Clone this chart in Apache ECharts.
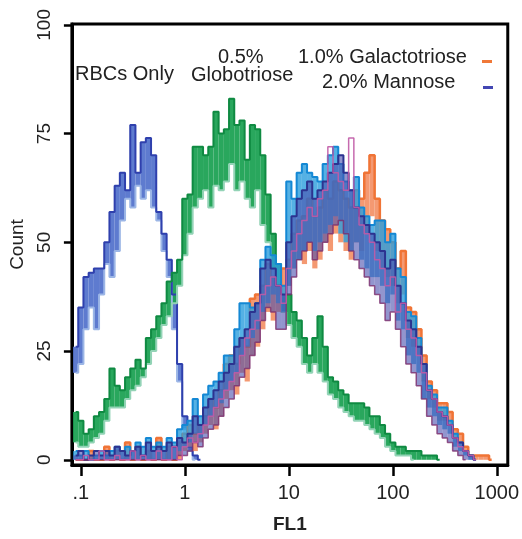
<!DOCTYPE html>
<html>
<head>
<meta charset="utf-8">
<script src="https://cdn.jsdelivr.net/npm/echarts@6/dist/echarts.min.js"></script>
<style>
html,body{margin:0;padding:0;background:#fff;}
#chart{width:522px;height:539px;}
</style>
</head>
<body>
<div id="chart"></div>
<script>
// ---- data (log10 FL1 channel bins, counts) ----
const binStart = -1.05;      // centre of first bin, log10(FL1)
const binWidth = 0.05;       // bin width, log10 units
const xTickValues = [-1, 0, 1, 2, 3];
const xTickLabels = ['.1', '1', '10', '100', '1000'];
const yTickValues = [0, 25, 50, 75, 100];

const rbcHigh = [26,35,42,43,44,44,50,57,63,66,62,77,66,73,74,70,57,52,46,38,22,10,3,1,0];
const rbcLow  = [20,22,30,35,30,38,45,42,48,55,60,58,63,60,62,58,55,48,42,30,18,7,2,0,0];

const globoHigh = [11,9,6,7,10,11,14,21,17,16,
  19,21,23,21,28,30,33,36,41,43,
  46,60,61,72,72,70,72,80,75,76,
  83,77,78,69,77,76,70,61,52,45,
  40,38,34,32,28,24,28,33,26,19,
  18,16,15,13,13,13,12,10,10,8,
  6,4,3,3,2,2,2,1,1,1,0];
const globoLow = [4,3,3,4,5,6,9,12,12,12,
  14,16,17,19,22,25,28,31,33,36,
  40,47,52,58,60,62,58,63,62,64,
  68,62,64,60,58,62,54,50,44,38,
  34,31,28,26,22,20,22,20,18,15,
  14,12,11,10,9,9,8,7,6,5,
  3,2,1,1,1,0,0,0,0,0,0];

const galactoHigh = [0,0,0,2,0,0,3,0,2,0,
  4,0,3,0,2,0,5,0,3,0,
  4,6,8,6,8,10,14,12,16,22,
  24,22,28,26,37,38,40,45,42,40,
  44,46,52,55,56,60,56,58,62,60,
  64,62,60,58,62,60,66,70,60,55,
  53,50,44,48,35,34,30,24,18,16,
  13,13,11,7,6,3,1,1,1,1,0];
const galactoLow = [0,0,0,0,0,0,0,0,0,0,
  0,0,0,0,0,0,0,0,0,0,
  0,2,3,2,4,6,8,7,10,14,
  16,15,20,18,24,26,30,34,32,34,
  38,40,44,46,45,48,44,46,50,48,
  52,50,48,46,50,48,52,56,48,44,
  42,40,36,38,28,26,24,18,14,12,
  9,9,8,5,4,2,1,0,0,0,0];

const mannoseHigh = [1,2,0,1,2,1,2,1,3,2,
  1,2,3,1,4,2,3,2,4,3,
  5,4,6,10,8,12,14,16,18,20,
  22,26,28,30,34,36,44,46,44,40,
  38,50,56,60,62,64,60,62,64,66,
  68,70,66,62,58,56,54,52,50,48,
  44,46,40,36,32,30,26,22,16,14,
  11,10,8,5,4,2,1,0,0,0,0];
const mannoseLow = [0,0,0,0,0,0,0,0,0,0,
  0,0,0,0,0,0,0,0,0,0,
  1,1,2,4,3,5,7,8,10,12,
  14,17,19,21,24,27,32,35,34,30,
  30,38,42,46,48,50,46,48,50,52,
  54,55,52,48,46,44,42,40,38,36,
  32,34,30,26,22,20,17,14,10,8,
  6,5,4,2,1,0,0,0,0,0,0];

const cyanHigh = [2,1,2,0,1,2,1,2,3,2,
  3,2,4,3,5,3,4,3,5,4,
  7,8,9,14,10,15,17,18,20,24,
  24,30,36,36,35,36,46,49,47,45,
  40,64,60,66,68,66,65,64,68,70,
  72,68,64,62,65,58,56,54,55,55,
  50,52,44,42,34,33,28,22,17,15,
  12,12,9,6,4,2,1,0,0,0,0];
const cyanLow = [0,0,0,0,0,0,0,0,0,0,
  0,0,0,0,0,0,0,0,0,0,
  2,3,4,6,5,8,10,12,13,16,
  18,20,24,26,28,30,34,36,38,36,
  34,40,44,46,48,50,48,50,52,54,
  56,52,50,48,50,46,44,42,42,40,
  36,38,32,30,24,22,20,14,12,10,
  8,7,6,3,2,1,0,0,0,0,0];

const magentaVals = [0,0,1,0,0,2,0,0,1,0,
  0,2,0,1,0,0,2,0,0,3,
  0,3,5,4,6,8,10,12,14,16,
  18,20,24,28,30,32,38,40,42,40,
  36,44,48,52,55,58,56,60,62,72,
  66,64,62,74,58,54,52,50,46,44,
  40,42,34,36,30,28,24,20,16,14,
  11,10,8,5,3,2,1,0,0,0,0];

// ---- helpers ----
function binX(k){ return +(binStart + binWidth*k).toFixed(4); }
function bandData(low, high){
  const out = [];
  for (let k = 0; k < high.length; k++) {
    if (high[k] > 0) out.push([binX(k), low[k], high[k]]);
  }
  return out;
}
function lineData(vals){
  let last = vals.length - 1;
  while (last > 0 && vals[last] === 0 && vals[last-1] === 0) last--;
  const out = [];
  for (let k = 0; k <= last; k++) out.push([binX(k), vals[k]]);
  return out;
}
function bandSeries(low, high, color, opacity, z){
  return {
    type: 'custom',
    z: z,
    silent: true,
    data: bandData(low, high),
    renderItem: function(params, api){
      const x = api.value(0), lo = api.value(1), hi = api.value(2);
      const p1 = api.coord([x - binWidth/2, hi]);
      const p2 = api.coord([x + binWidth/2, lo]);
      let h = p2[1] - p1[1];
      if (h < 2) h = 2;
      return {
        type: 'rect',
        shape: {x: p1[0], y: p1[1], width: p2[0] - p1[0], height: h},
        style: {fill: color, opacity: opacity}
      };
    }
  };
}
function stepLine(vals, color, width, z, opacity){
  return {
    type: 'line',
    step: 'middle',
    z: z,
    silent: true,
    symbol: 'none',
    data: lineData(vals),
    lineStyle: {color: color, width: width, opacity: opacity == null ? 1 : opacity}
  };
}

const FONT = '"Liberation Sans", Arial, Helvetica, sans-serif';
const chart = echarts.init(document.getElementById('chart'), null, {renderer: 'canvas'});

const series = [
  // RBCs only
  bandSeries(rbcLow, rbcHigh, '#5574cc', 0.95, 2),
  stepLine(rbcLow, '#9cb6e6', 2, 3),
  stepLine(rbcHigh, '#2f40ad', 2, 3),
  // Globotriose
  bandSeries(globoLow, globoHigh, '#1ea254', 0.95, 2),
  stepLine(globoLow, '#93d3b6', 2, 3),
  stepLine(globoHigh, '#0f8a42', 2, 3),
  // right cluster
  bandSeries(galactoLow, galactoHigh, '#f3946a', 0.95, 4),
  stepLine(galactoHigh, '#f07436', 2.5, 5),
  bandSeries(cyanLow, cyanHigh, '#2b9ddd', 0.8, 6),
  stepLine(cyanHigh, '#1488d4', 2, 7),
  bandSeries(mannoseLow, mannoseHigh, '#4a4fae', 0.6, 8),
  stepLine(mannoseHigh, '#2c3390', 2, 9),
  stepLine(mannoseLow, '#7a2c6c', 1.5, 9, 0.8),
  stepLine(magentaVals, '#c05aa6', 1.5, 10, 0.9)
];

chart.setOption({
  animation: false,
  backgroundColor: '#fff',
  grid: {left: 68, right: 14, top: 24, bottom: 68, show: true, borderColor: '#000', borderWidth: 3, backgroundColor: 'transparent'},
  xAxis: {
    type: 'value',
    min: -1.086, max: 3.105,
    name: 'FL1', nameLocation: 'middle', nameGap: 50,
    nameTextStyle: {fontFamily: FONT, fontSize: 19, fontWeight: 'bold', color: '#222'},
    axisLine: {show: true, onZero: false, lineStyle: {color: '#000', width: 3}},
    axisTick: {show: true, customValues: xTickValues, length: 11, lineStyle: {color: '#000', width: 2.5}},
    axisLabel: {show: true, customValues: xTickValues, margin: 18,
      fontFamily: FONT, fontSize: 20, color: '#222',
      formatter: function(v){ const i = xTickValues.indexOf(Math.round(v)); return i >= 0 ? xTickLabels[i] : ''; }},
    splitLine: {show: false}
  },
  yAxis: {
    type: 'value',
    min: -1.2, max: 100.2,
    name: 'Count', nameLocation: 'middle', nameGap: 39,
    nameTextStyle: {fontFamily: FONT, fontSize: 19, color: '#222'},
    axisLine: {show: true, onZero: false, lineStyle: {color: '#000', width: 3}},
    axisTick: {show: true, customValues: yTickValues, length: 8, lineStyle: {color: '#000', width: 2.5}},
    axisLabel: {show: true, customValues: yTickValues, margin: 18, rotate: 90,
      fontFamily: FONT, fontSize: 19, color: '#222'},
    splitLine: {show: false}
  },
  graphic: [
    {type: 'text', left: 75, top: 64, style: {text: 'RBCs Only', font: '20px ' + FONT, fill: '#222'}},
    {type: 'text', left: 218, top: 47, style: {text: '0.5%', font: '20px ' + FONT, fill: '#222'}},
    {type: 'text', left: 191, top: 65, style: {text: 'Globotriose', font: '20px ' + FONT, fill: '#222'}},
    {type: 'text', left: 298, top: 47, style: {text: '1.0% Galactotriose', font: '20px ' + FONT, fill: '#222'}},
    {type: 'text', left: 322, top: 72, style: {text: '2.0% Mannose', font: '20px ' + FONT, fill: '#222'}},
    {type: 'rect', left: 482, top: 60, shape: {width: 10, height: 3}, style: {fill: '#f07838'}},
    {type: 'rect', left: 483, top: 86, shape: {width: 10, height: 3}, style: {fill: '#4347b3'}}
  ],
  series: series
});
</script>
</body>
</html>
